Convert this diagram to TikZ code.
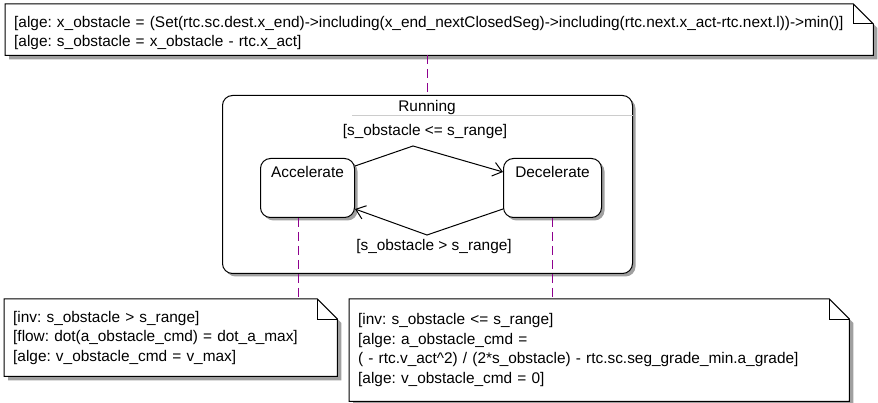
\documentclass[tikz,border=0pt]{standalone}
\usepackage{fontspec}
\setmainfont{Liberation Sans}
\usetikzlibrary{arrows.meta,calc,shadows,backgrounds}
\definecolor{linkc}{HTML}{8E008E}
\definecolor{shadowc}{HTML}{A0A0A0}
\newcommand\foldnote[2]{%
  \begin{scope}[on background layer]
    \fill[shadowc] ($(#1.north west)+(4,4)$) -- ($(#1.north east)+(4-#2,4)$) -- ($(#1.north east)+(4,4+#2)$) -- ($(#1.south east)+(4,4)$) -- ($(#1.south west)+(4,4)$) -- cycle;
    \filldraw[fill=white,draw=black,line width=1pt,line join=miter] (#1.north west) -- ($(#1.north east)+(-#2,0)$) -- ($(#1.north east)+(0,#2)$) -- (#1.south east) -- (#1.south west) -- cycle;
  \end{scope}
  \draw[line width=1pt] ($(#1.north east)+(-#2,0)$) -- ($(#1.north east)+(-#2,#2)$) -- ($(#1.north east)+(0,#2)$);
}
\begin{document}
\frenchspacing
\begin{tikzpicture}[x=1pt,y=-1pt,
  font=\fontsize{15.4}{19.5}\selectfont,
  notebox/.style={draw=none,inner xsep=9pt,inner ysep=0pt,align=left,anchor=north west},
  statebox/.style={draw,line width=1pt,rounded corners=10pt,fill=white,anchor=north west,
    drop shadow={shadow xshift=3pt,shadow yshift=-3pt,fill=shadowc,opacity=1}},
  lbl/.style={inner sep=0pt},
  link/.style={draw=linkc,line width=1pt,dash pattern=on 9pt off 5pt},
  trans/.style={draw,line width=1pt,-{Straight Barb[length=9pt,width=14pt,line width=1pt]}}
]
\useasboundingbox (0,0) rectangle (878,403);

% notes
\node[notebox,text width=850pt,minimum height=51pt] (tnote) at (5,4)
  {\mbox{\rule{0pt}{18pt}[alge: x\_obstacle = (Set(rtc.sc.dest.x\_end)->including(x\_end\_nextClosedSeg)->including(rtc.next.x\_act-rtc.next.l))->min()]}\\{}[alge: s\_obstacle = x\_obstacle - rtc.x\_act]};
\foldnote{tnote}{20}

\node[notebox,text width=315pt,minimum height=77pt] (lnote) at (4,299)
  {[inv: s\_obstacle > s\_range]\\{}[flow: dot(a\_obstacle\_cmd) = dot\_a\_max]\\{}[alge: v\_obstacle\_cmd = v\_max]};
\foldnote{lnote}{20}

\node[notebox,text width=482pt,minimum height=102pt] (rnote) at (349,299)
  {[inv: s\_obstacle <= s\_range]\\{}[alge: a\_obstacle\_cmd =\\{}( - rtc.v\_act\textasciicircum 2) / (2*s\_obstacle) - rtc.sc.seg\_grade\_min.a\_grade]\\{}[alge: v\_obstacle\_cmd = 0]};
\foldnote{rnote}{20}

% composite state
\node[statebox,minimum width=410pt,minimum height=178pt] (run) at (222,95) {};
\node[lbl] (runtitle) at (427,107.5) {Running};
\draw[gray!40,line width=0.8pt] ($(run.north west)+(130,20)$) -- ($(run.north east)+(0,20)$);

% states
\node[statebox,minimum width=94pt,minimum height=59pt] (acc) at (260,158) {};
\node[lbl] (acct) at ($(acc.north)+(0,13.5)$) {Accelerate};
\node[statebox,minimum width=98pt,minimum height=59pt] (dec) at (503,158) {};
\node[lbl] (dect) at ($(dec.north)+(0,13.5)$) {Decelerate};

% transitions
\coordinate (m1) at (413,146);
\coordinate (m2) at (427,235);
\draw[trans] ($(acc.north east)+(0,8)$) -- (m1) -- ($(dec.north west)+(0,14)$);
\draw[trans] ($(dec.south west)+(0,-9)$) -- (m2) -- ($(acc.south east)+(0,-9)$);
\node[lbl] (g1) at (425,132) {[s\_obstacle <= s\_range]};
\node[lbl] (g2) at (434,247) {[s\_obstacle > s\_range]};

% note links
\draw[link] (run.north |- tnote.south) -- (run.north);
\draw[link] ([xshift=-9pt]acc.south) -- ([xshift=-9pt]acc.south |- lnote.north);
\draw[link] (dec.south) -- (dec.south |- rnote.north);
\end{tikzpicture}
\end{document}
